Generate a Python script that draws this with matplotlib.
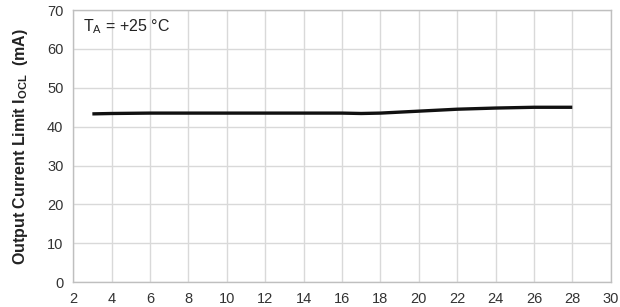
import matplotlib
matplotlib.use("Agg")
import matplotlib.pyplot as plt

plt.rcParams['font.family'] = ['Liberation Sans', 'DejaVu Sans']

vin = [3, 4, 6, 8, 10, 12, 14, 16, 17, 18, 20, 22, 24, 26, 28]
iocl = [43.3, 43.4, 43.5, 43.5, 43.5, 43.5, 43.5, 43.5, 43.4, 43.5, 44.0, 44.5, 44.8, 45.0, 45.0]
xticks = list(range(2, 31, 2))
yticks = list(range(0, 71, 10))

fig = plt.figure(figsize=(6.2, 3.07), dpi=100)
ax = fig.add_axes([0.118, 0.081, 0.867, 0.886])
ax.plot(vin, iocl, color='#111111', lw=2.4, solid_capstyle='butt')
ax.set_xlim(2, 30)
ax.set_ylim(0, 70)
ax.set_xticks(xticks)
ax.set_yticks(yticks)
ax.grid(True, color='#d9d9d9', lw=1)
ax.set_axisbelow(True)
for s in ax.spines.values():
    s.set_color('#bfbfbf')
    s.set_linewidth(1)
ax.tick_params(length=0, labelsize=10.5, colors='#333333', pad=7)
ax.set_ylabel(r'Output Current Limit I$_{\mathregular{OCL}}$  (mA)', fontsize=11.5,
              fontweight='bold', color='#222222', labelpad=12)
ax.text(0.018, 0.975, r'T$_{\mathregular{A}}$ = +25 °C', transform=ax.transAxes,
        ha='left', va='top', fontsize=11.5, color='#222222')
fig.savefig('out.png', dpi=100)
